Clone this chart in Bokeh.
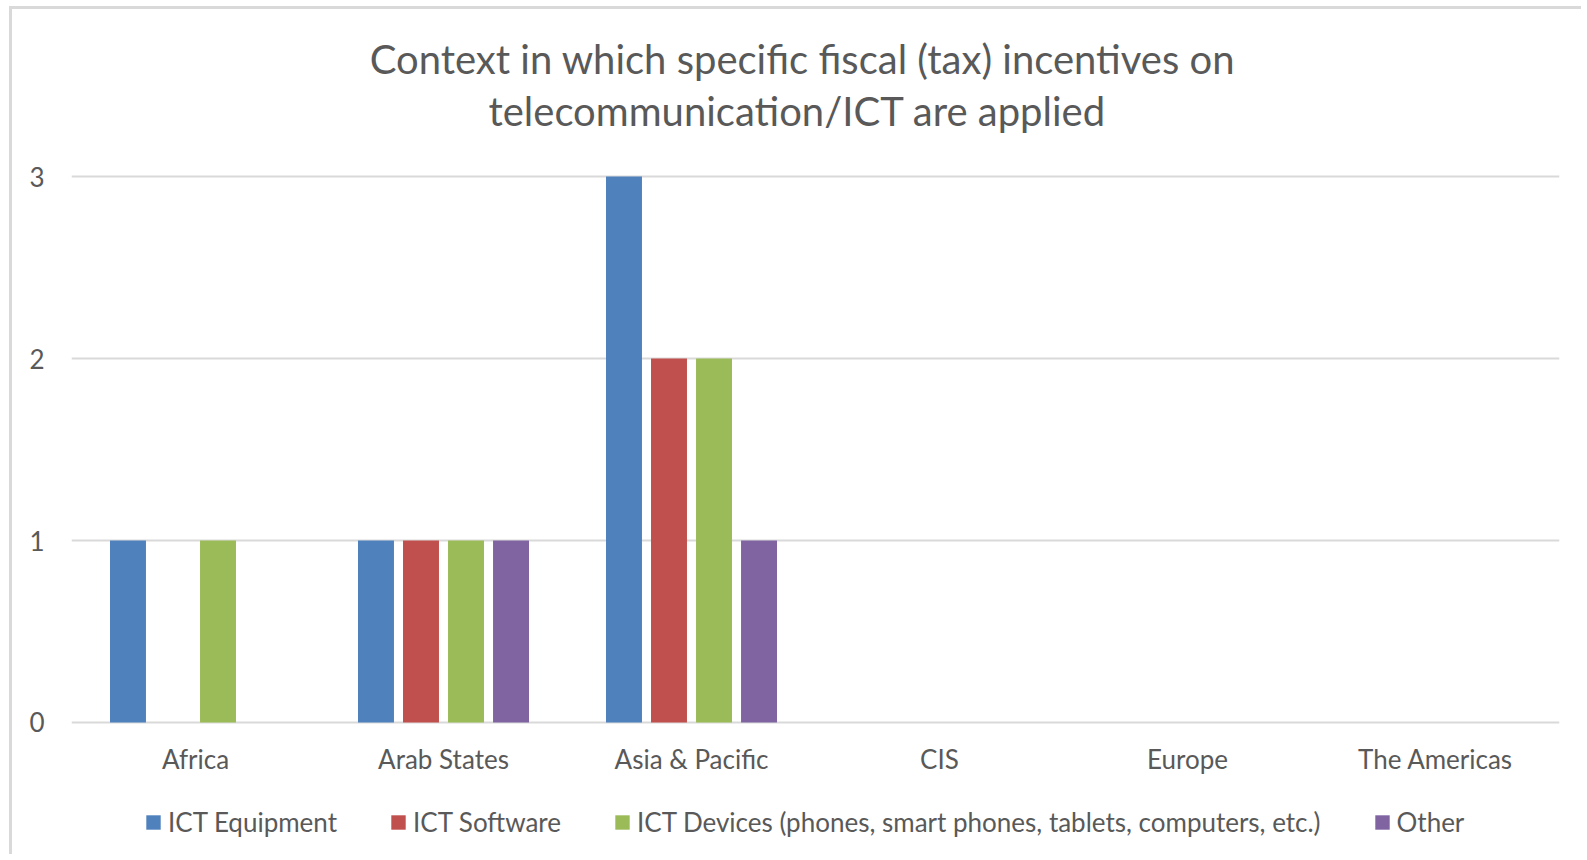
from bokeh.plotting import figure
from bokeh.models import FactorRange, Range1d, FixedTicker, Legend, LegendItem, Label
from bokeh.transform import dodge
from bokeh.core.properties import value
from bokeh.embed import file_html
from bokeh.resources import INLINE

categories = ["Africa", "Arab States", "Asia & Pacific", "CIS", "Europe", "The Americas"]
ict_equipment = [1, 1, 3, 0, 0, 0]
ict_software = [0, 1, 2, 0, 0, 0]
ict_devices = [1, 1, 2, 0, 0, 0]
other = [0, 1, 1, 0, 0, 0]
series_names = ["ICT Equipment", "ICT Software",
                "ICT Devices (phones, smart phones, tablets, computers, etc.)", "Other"]
series_values = [ict_equipment, ict_software, ict_devices, other]
colors = ["#4F81BD", "#C0504D", "#9BBB59", "#8064A2"]
y_ticks = [0, 1, 2, 3]
title_lines = ["Context in which specific fiscal (tax) incentives on",
               "telecommunication/ICT  are applied"]

FONT = "Lato"
TXT = "#595959"

# The plotting frame covers the whole canvas height; y=0..3 occupies the middle band.
p = figure(width=1572, height=848, output_backend="svg", toolbar_location=None,
           x_range=FactorRange(*categories, range_padding=0),
           y_range=Range1d(-0.742, 3.918),
           x_axis_location=None,
           min_border_left=59, min_border_right=25, min_border_top=0, min_border_bottom=0)
p.styles = {"border-left": "3px solid #d9d9d9", "border-top": "3px solid #d9d9d9",
            "margin-left": "9px", "margin-top": "6px"}
p.outline_line_color = None
p.background_fill_color = "white"
p.border_fill_color = "white"

data = {"cat": categories}
for i, vals in enumerate(series_values):
    data["s%d" % i] = vals

slot = 0.1815
width = 0.145
renderers = []
for i in range(4):
    off = (i - 1.5) * slot
    r = p.vbar(x=dodge("cat", off, range=p.x_range), top="s%d" % i, bottom=0, width=width,
               source=data, fill_color=colors[i], line_color=None)
    renderers.append(r)

p.xgrid.grid_line_color = None
p.ygrid.grid_line_color = "#d9d9d9"
p.ygrid.grid_line_width = 2
p.yaxis.ticker = FixedTicker(ticks=y_ticks)
p.yaxis.axis_line_color = None
p.yaxis.major_tick_line_color = None
p.yaxis.minor_tick_line_color = None
p.yaxis.major_label_text_font = FONT
p.yaxis.major_label_text_color = TXT
p.yaxis.major_label_text_font_size = "26px"
p.yaxis.major_label_standoff = 21

# category labels under the zero line
p.text(x="cat", y=-0.2, text="cat", source={"cat": categories},
       text_font=value(FONT), text_font_size="26px", text_color=TXT,
       text_align="center", text_baseline="middle")

# title (two lines)
for line, yy in zip(title_lines, [799, 747]):
    p.add_layout(Label(x=731, y=yy, x_units="screen", y_units="screen", text=line,
                       text_font=FONT, text_font_size="40px", text_color=TXT,
                       text_align="center", text_baseline="middle"))

legend = Legend(items=[LegendItem(label=series_names[i], renderers=[renderers[i]]) for i in range(4)],
                orientation="horizontal", location=(73, 19),
                glyph_width=18, glyph_height=18, label_standoff=6, spacing=52,
                padding=0, margin=0, border_line_color=None, background_fill_alpha=0,
                label_text_font=FONT, label_text_font_size="26px", label_text_color=TXT,
                label_height=30)
p.add_layout(legend, "center")

open("out.html", "w").write(file_html(p, INLINE))
